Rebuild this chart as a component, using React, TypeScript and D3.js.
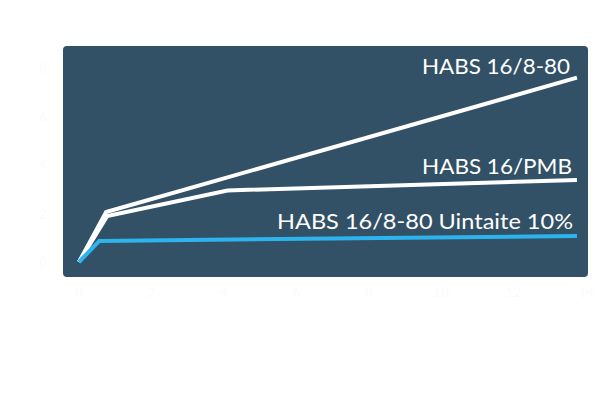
import * as d3 from "d3";
import React, { useEffect, useRef } from "react";

// series (x: years, y: value)
const seriesNames = ["HABS 16/8-80", "HABS 16/PMB", "HABS 16/8-80 Uintaite 10%"];
const habs880X = [0, 0.75, 13.75];
const habs880Y = [0, 2.06, 7.6];
const habsPmbX = [0, 0.78, 4.1, 13.75];
const habsPmbY = [0, 1.9, 2.95, 3.38];
const uintaiteX = [0, 0.56, 13.75];
const uintaiteY = [0, 0.87, 1.07];
const xTicks = [0, 2, 4, 6, 8, 10, 12, 14];
const yTicks = [0, 2, 4, 6, 8];

const App: React.FC = () => {
  const svgRef = useRef<SVGSVGElement>(null);

  useEffect(() => {
    const svg = d3.select(svgRef.current);
    svg.selectAll("*").remove();

    const xScale = d3.scaleLinear().domain([0, 14]).range([79, 586]);
    const yScale = d3.scaleLinear().domain([0, 8]).range([262, 68]);

    svg
      .append("rect")
      .attr("x", 63)
      .attr("y", 46)
      .attr("width", 525)
      .attr("height", 231)
      .attr("rx", 4)
      .attr("fill", "#325166");

    // near-invisible tick labels
    svg
      .append("g")
      .selectAll("text")
      .data(yTicks)
      .enter()
      .append("text")
      .attr("x", 43)
      .attr("y", (d) => yScale(d) + 5)
      .attr("text-anchor", "middle")
      .attr("font-family", "Lato")
      .attr("font-size", 13)
      .attr("fill", "#fbfbfb")
      .text((d) => d);

    svg
      .append("g")
      .selectAll("text")
      .data(xTicks)
      .enter()
      .append("text")
      .attr("x", (d) => xScale(d))
      .attr("y", 297)
      .attr("text-anchor", "middle")
      .attr("font-family", "Lato")
      .attr("font-size", 13)
      .attr("fill", "#fbfbfb")
      .text((d) => d);

    const line = d3
      .line<[number, number]>()
      .x((d) => xScale(d[0]))
      .y((d) => yScale(d[1]));

    const series = [
      { xs: habs880X, ys: habs880Y, color: "#ffffff" },
      { xs: habsPmbX, ys: habsPmbY, color: "#ffffff" },
      { xs: uintaiteX, ys: uintaiteY, color: "#2db4ef" },
    ];

    series.forEach((s) => {
      svg
        .append("path")
        .datum(s.xs.map((x, i) => [x, s.ys[i]] as [number, number]))
        .attr("d", line)
        .attr("fill", "none")
        .attr("stroke", s.color)
        .attr("stroke-width", 4)
        .attr("stroke-linejoin", "miter");
    });

    const labels = [
      { name: seriesNames[0], x: 570, y: 74, w: 148 },
      { name: seriesNames[1], x: 572, y: 174, w: 150 },
      { name: seriesNames[2], x: 573, y: 229, w: 296 },
    ];

    svg
      .append("g")
      .selectAll("text")
      .data(labels)
      .enter()
      .append("text")
      .attr("x", (d) => d.x - d.w)
      .attr("y", (d) => d.y)
      .attr("font-family", "'Century Gothic', Lato, sans-serif")
      .attr("font-size", 22)
      .attr("fill", "#ffffff")
      .attr("textLength", (d) => d.w)
      .attr("lengthAdjust", "spacingAndGlyphs")
      .text((d) => d.name);
  }, []);

  return (
    <svg
      ref={svgRef}
      width={600}
      height={400}
      style={{ position: "absolute", left: 0, top: 0, background: "#ffffff" }}
    ></svg>
  );
};

export default App;
